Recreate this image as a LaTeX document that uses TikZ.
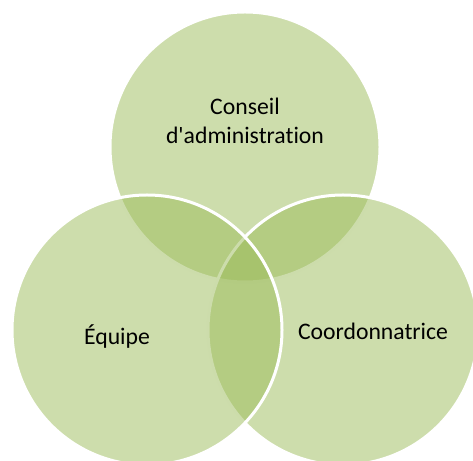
\documentclass[tikz,border=0pt]{standalone}
\usepackage{fontspec}
\setmainfont{Carlito}[Ligatures={TeXOff,CommonOff}]
\definecolor{VennGreen}{HTML}{9BBB59}
\tikzset{
  % Circle styles
  vennset/.style={circle, minimum size=270pt, inner sep=0pt, fill=VennGreen, fill opacity=0.5, draw=white, line width=3pt},
  % Label styles
  vennlabel/.style={font=\fontsize{23.7}{28.4}\selectfont, text=black, align=center}
}
\begin{document}
\begin{tikzpicture}
  \useasboundingbox (0,0) rectangle (473pt,460pt);
  % Sets
  \node[vennset] (conseil) at (245pt,313pt) {};
  \node[vennset] (coord) at (343pt,130pt) {};
  \node[vennset] (equipe) at (147pt,130pt) {};
  % Labels
  \node[vennlabel] (conseillabel) at ([yshift=26pt]conseil.center) {Conseil\\d'administration};
  \node[vennlabel, anchor=base] (equipelabel) at ([xshift=-30pt,yshift=-15pt]equipe.center) {Équipe};
  \node[vennlabel, anchor=base] (coordlabel) at ([xshift=30pt,yshift=-10pt]coord.center) {Coordonnatrice};
\end{tikzpicture}
\end{document}
